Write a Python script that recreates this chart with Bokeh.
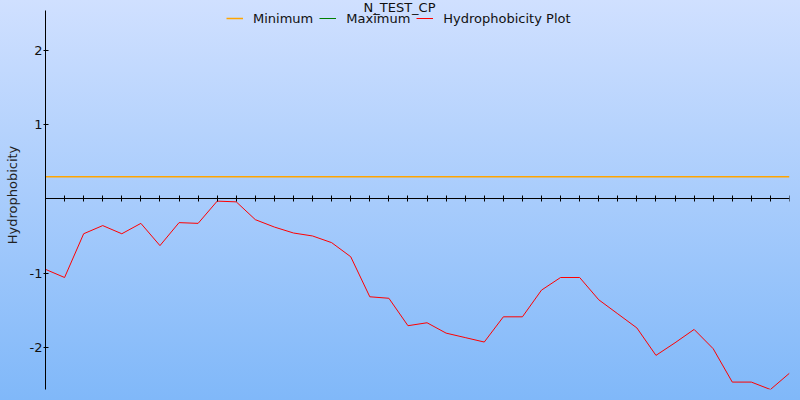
from bokeh.plotting import figure
from bokeh.models import LinearAxis, FixedTicker, Legend, LegendItem, Label, Range1d, PrintfTickFormatter
from bokeh.embed import file_html
from bokeh.resources import INLINE

title_text = "N_TEST_CP"
positions = list(range(1, 41))
hydrophobicity = [-0.95, -1.06, -0.47, -0.36, -0.47, -0.33, -0.63, -0.32, -0.33, -0.03,
                  -0.04, -0.28, -0.38, -0.46, -0.50, -0.59, -0.78, -1.32, -1.34, -1.71,
                  -1.67, -1.81, -1.87, -1.93, -1.59, -1.59, -1.23, -1.06, -1.06, -1.36,
                  -1.55, -1.74, -2.11, -1.94, -1.76, -2.02, -2.47, -2.47, -2.57, -2.35]
minimum_value = 0.3
maximum_values = [float("nan")]
y_ticks = [-2, -1, 1, 2]
y_limits = (-2.57, 2.54)
top_pad = 0.135  # room above the axis for title and legend

FONT = "DejaVu Sans"

p = figure(width=800, height=400, output_backend="svg", toolbar_location=None,
           x_axis_type=None, y_axis_location="left",
           x_range=Range1d(positions[0], positions[-1]),
           y_range=Range1d(y_limits[0], y_limits[1] + top_pad),
           min_border_left=45, min_border_top=0, min_border_bottom=11, min_border_right=11)
p.styles = {"background": "linear-gradient(to bottom, #d0e0ff, #80b8f9)"}
p.background_fill_alpha = 0
p.border_fill_alpha = 0
p.outline_line_color = None
p.xgrid.visible = False
p.ygrid.visible = False

yax = p.yaxis[0]
yax.bounds = y_limits
yax.ticker = FixedTicker(ticks=y_ticks)
yax.formatter = PrintfTickFormatter(format="%d")
yax.minor_tick_line_color = None
yax.major_tick_in = 3
yax.major_tick_out = 2
yax.major_label_standoff = 1
yax.major_label_text_font = FONT
yax.major_label_text_font_size = "13px"
yax.major_label_text_color = "#111111"
yax.axis_line_color = "black"
yax.major_tick_line_color = "black"
yax.axis_label = "Hydrophobicity"
yax.axis_label_text_font = FONT
yax.axis_label_text_font_size = "13px"
yax.axis_label_text_font_style = "normal"
yax.axis_label_text_color = "#222222"
yax.axis_label_standoff = 7

xax = LinearAxis(fixed_location=0, ticker=FixedTicker(ticks=positions),
                 major_label_overrides={v: "" for v in positions},
                 major_tick_in=3, major_tick_out=3,
                 minor_tick_line_color=None, axis_line_color="black",
                 major_tick_line_color="black", major_label_standoff=0)
p.add_layout(xax, "below")

r_min = p.line(positions, [minimum_value] * len(positions), line_color="orange", line_width=1.5)
r_max = p.line(positions[:1], maximum_values, line_color="green", line_width=1)
r_hyd = p.line(positions, hydrophobicity, line_color="red", line_width=1)

legend = Legend(items=[LegendItem(label="Minimum", renderers=[r_min]),
                       LegendItem(label="Maximum", renderers=[r_max]),
                       LegendItem(label="Hydrophobicity Plot", renderers=[r_hyd])],
                orientation="horizontal", location=(181, 363),
                background_fill_alpha=0, border_line_color=None,
                padding=0, margin=0, spacing=6, label_standoff=10,
                glyph_width=17, glyph_height=16, label_height=16,
                label_text_font=FONT, label_text_font_size="13px",
                label_text_color="#111111")
p.add_layout(legend, "center")

p.add_layout(Label(x=354, y=382.5, x_units="screen", y_units="screen", text=title_text,
                   text_align="center", text_baseline="alphabetic",
                   text_font=FONT, text_font_size="13px", text_color="#111111"))

open("out.html", "w").write(file_html(p, INLINE))
